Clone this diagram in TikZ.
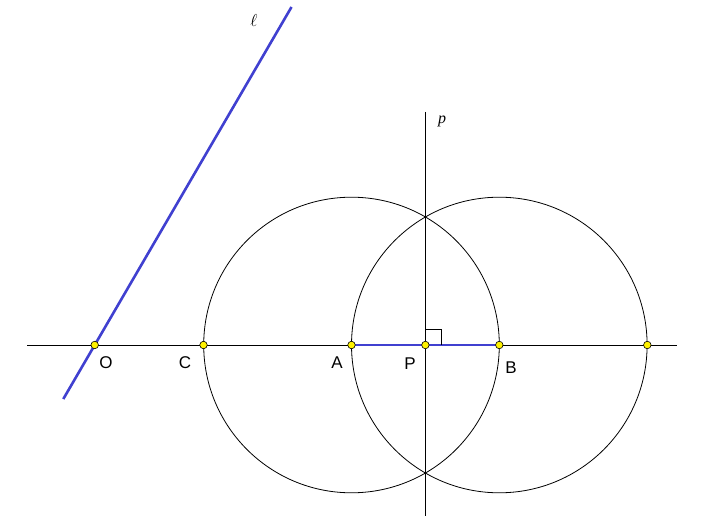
\documentclass[tikz,border=0pt]{standalone}
\usepackage{fontspec}
\setmainfont{Liberation Sans}
\newfontfamily\timesfont{Liberation Serif}
\definecolor{lineblue}{RGB}{64,64,208}
\tikzset{
	ptdot/.style={circle, draw=black, fill=yellow, inner sep=0pt, minimum size=7.5pt, line width=0.6pt},
	ptlabel/.style={font=\fontsize{17}{20}\selectfont, inner sep=0pt},
	linelabel/.style={font=\fontsize{16}{18}\selectfont\timesfont\itshape, inner sep=0pt}
}

\begin{document}
\begin{tikzpicture}[x=1pt, y=-1pt]
		
		\useasboundingbox (0,0) rectangle (703,518);
		
		% points on the horizontal line
		\coordinate (O) at (94.7,345);
		\coordinate (C) at (203.5,345);
		\coordinate (A) at (351.5,345);
		\coordinate (P) at (425.4,345);
		\coordinate (B) at (499.3,345);
		\coordinate (D) at (647.3,345);
		% ends of the lines
		\coordinate (H1) at (27,345);
		\coordinate (H2) at (677,345);
		\coordinate (V1) at (425.4,112);
		\coordinate (V2) at (425.4,516);
		\coordinate (L1) at (63.3,399);
		\coordinate (L2) at (291.5,7);
		
		\draw[black, line width=0.8pt] (A) circle (147.8);
		\draw[black, line width=0.8pt] (B) circle (147.8);
		\draw[black, line width=0.9pt] (H1) -- (H2);
		\draw[black, line width=0.9pt] (V1) -- (V2);
		\draw[lineblue, line width=2.6pt] (L1) -- (L2);
		\draw[lineblue, line width=2.6pt] (A) -- (B);
		% right angle mark
		\draw[black, line width=0.8pt] (P) ++(0,-16) -- ++(16,0) -- ++(0,16);
		
		\foreach \p in {O,C,A,P,B,D}
			\node[ptdot] (dot\p) at (\p) {};
		
		\node[ptlabel] (labO) at (106,363) {O};
		\node[ptlabel] (labC) at (185,363) {C};
		\node[ptlabel] (labA) at (337,363) {A};
		\node[ptlabel] (labP) at (410,364) {P};
		\node[ptlabel] (labB) at (511,368) {B};
		\node[inner sep=0pt, font=\fontsize{17}{20}\selectfont] (labl) at (254,21) {$\ell$};
		\node[linelabel] (labp) at (442,121) {p};
		
	\end{tikzpicture}
\end{document}
